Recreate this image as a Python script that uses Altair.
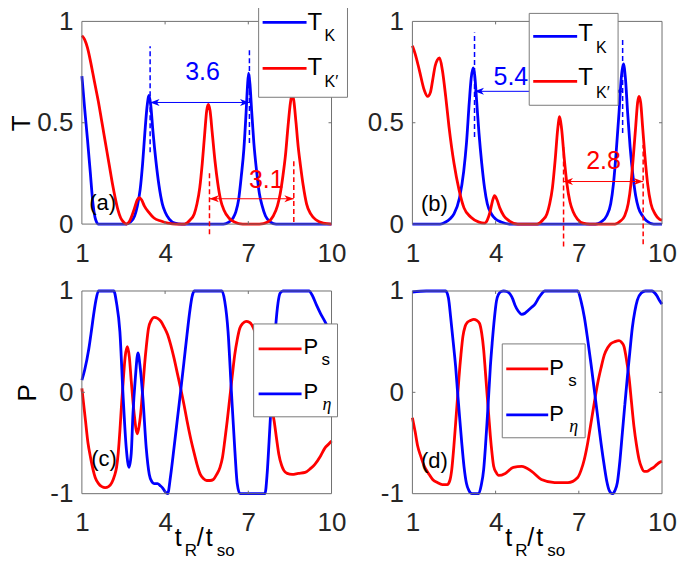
import altair as alt
import pandas as pd

# ---------------- data ----------------
# panel (a): transmission
a_blue_x = [1.0, 1.1, 1.2, 1.3, 1.4, 1.5, 1.6, 2.6, 2.75, 2.9, 3.0, 3.1, 3.19, 3.27, 3.35, 3.42, 3.48, 3.56, 3.67, 3.78, 3.9, 4.0, 4.15, 4.35, 4.6,
            6.1, 6.3, 6.45, 6.55, 6.65, 6.75, 6.84, 6.92, 6.97, 7.01, 7.06, 7.12, 7.2, 7.3, 7.4, 7.5, 7.62, 7.8, 8.0, 10.0]
a_blue_y = [0.73, 0.57, 0.42, 0.26, 0.1, 0.02, 0.0, 0.0, 0.01, 0.04, 0.09, 0.17, 0.3, 0.45, 0.58, 0.635, 0.59, 0.46, 0.31, 0.19, 0.1, 0.06, 0.025, 0.005, 0.0,
            0.0, 0.01, 0.03, 0.06, 0.12, 0.24, 0.37, 0.55, 0.68, 0.745, 0.69, 0.56, 0.4, 0.26, 0.15, 0.09, 0.04, 0.01, 0.0, 0.0]
a_red_x = [1.0, 1.1, 1.2, 1.3, 1.4, 1.5, 1.6, 1.7, 1.8, 1.9, 2.0, 2.1, 2.2, 2.3, 2.4, 2.5, 2.6, 2.7, 2.8, 2.9, 3.0, 3.07, 3.15, 3.25, 3.4, 3.6, 3.85,
           4.1, 4.4, 4.7, 4.9, 5.05, 5.15, 5.25, 5.34, 5.43, 5.5, 5.56, 5.62, 5.7, 5.8, 5.9, 6.0, 6.12, 6.3, 6.5, 6.8, 7.4, 7.7, 7.9, 8.05,
           8.15, 8.25, 8.34, 8.43, 8.52, 8.58, 8.64, 8.72, 8.8, 8.88, 8.98, 9.1, 9.25, 9.45, 9.7, 10.0]
a_red_y = [0.93, 0.91, 0.87, 0.81, 0.74, 0.67, 0.6, 0.52, 0.44, 0.36, 0.28, 0.2, 0.13, 0.07, 0.03, 0.01, 0.0, 0.01, 0.04, 0.08, 0.12, 0.13, 0.12, 0.09, 0.06, 0.03, 0.015,
           0.005, 0.0, 0.0, 0.02, 0.05, 0.1, 0.18, 0.3, 0.45, 0.56, 0.59, 0.56, 0.45, 0.31, 0.2, 0.12, 0.07, 0.03, 0.01, 0.0, 0.0, 0.01, 0.04, 0.09,
           0.15, 0.24, 0.34, 0.48, 0.6, 0.64, 0.61, 0.5, 0.38, 0.29, 0.19, 0.1, 0.05, 0.02, 0.005, 0.0]

# panel (b): transmission
b_blue_x = [1.0, 2.0, 2.2, 2.35, 2.5, 2.7, 2.85, 2.95, 3.05, 3.12, 3.19, 3.25, 3.32, 3.4, 3.5, 3.6, 3.7, 3.85, 4.0, 4.2, 4.5,
            7.6, 7.8, 8.0, 8.15, 8.25, 8.35, 8.45, 8.53, 8.61, 8.68, 8.76, 8.85, 8.95, 9.05, 9.15, 9.3, 9.45, 9.7, 10.0]
b_blue_y = [0.0, 0.0, 0.01, 0.025, 0.05, 0.13, 0.26, 0.4, 0.6, 0.72, 0.77, 0.73, 0.6, 0.45, 0.3, 0.18, 0.1, 0.05, 0.025, 0.01, 0.0,
            0.0, 0.01, 0.04, 0.1, 0.2, 0.36, 0.55, 0.72, 0.79, 0.72, 0.55, 0.38, 0.24, 0.14, 0.08, 0.04, 0.015, 0.0, 0.0]
b_red_x = [1.0, 1.1, 1.25, 1.43, 1.55, 1.65, 1.73, 1.82, 1.9, 1.98, 2.08, 2.2, 2.32, 2.5, 2.68, 2.86, 3.1, 3.4, 3.6, 3.7, 3.8, 3.88, 3.96,
           4.05, 4.15, 4.3, 4.5, 4.8, 5.5, 5.7, 5.85, 5.95, 6.05, 6.15, 6.24, 6.31, 6.38, 6.47, 6.57, 6.68, 6.8, 6.95, 7.15, 7.4,
           8.3, 8.5, 8.65, 8.78, 8.88, 8.97, 9.05, 9.12, 9.17, 9.23, 9.3, 9.38, 9.48, 9.6, 9.75, 9.9, 10.0]
b_red_y = [0.88, 0.84, 0.76, 0.66, 0.63, 0.65, 0.71, 0.78, 0.81, 0.82, 0.76, 0.63, 0.48, 0.3, 0.17, 0.08, 0.035, 0.01, 0.005, 0.02, 0.06, 0.11, 0.14,
           0.12, 0.08, 0.04, 0.015, 0.0, 0.0, 0.02, 0.05, 0.1, 0.18, 0.32, 0.47, 0.53, 0.47, 0.33, 0.2, 0.11, 0.06, 0.025, 0.005, 0.0,
           0.0, 0.015, 0.04, 0.1, 0.2, 0.34, 0.48, 0.6, 0.63, 0.6, 0.48, 0.34, 0.2, 0.1, 0.05, 0.025, 0.02]

# panel (c): polarisation
c_blue_x = [1.0, 1.1, 1.25, 1.35, 1.43, 1.5, 1.6, 2.15, 2.25, 2.37, 2.49, 2.6, 2.7, 2.78, 2.84, 2.93, 3.02, 3.1, 3.2, 3.32, 3.43, 3.52, 3.6,
            3.73, 3.82, 3.9, 4.0, 4.09, 4.2, 4.32, 4.44, 4.56, 4.68, 4.79, 4.9, 4.97, 5.05, 6.05, 6.15, 6.27, 6.39, 6.51, 6.6, 6.7,
            7.6, 7.68, 7.75, 7.87, 7.99, 8.07, 8.15, 8.25, 9.2, 9.3, 9.46, 9.6, 9.76, 9.9, 10.0]
c_blue_y = [0.12, 0.22, 0.43, 0.62, 0.78, 0.9, 1.0, 1.0, 0.88, 0.6, -0.06, -0.55, -0.74, -0.6, -0.22, 0.15, 0.39, 0.25, -0.06, -0.55, -0.81, -0.88, -0.9,
            -0.9, -0.92, -0.94, -0.98, -1.0, -0.82, -0.55, -0.27, 0.01, 0.3, 0.57, 0.82, 0.94, 1.0, 1.0, 0.9, 0.6, 0.01, -0.55, -0.9, -1.0,
            -1.0, -0.8, -0.48, 0.11, 0.66, 0.88, 0.98, 1.0, 1.0, 0.96, 0.86, 0.78, 0.7, 0.62, 0.55]
c_red_x = [1.0, 1.13, 1.22, 1.31, 1.4, 1.48, 1.6, 1.72, 1.84, 1.96, 2.08, 2.18, 2.25, 2.31, 2.37, 2.43, 2.49, 2.56, 2.64, 2.71, 2.78, 2.88, 3.0,
           3.07, 3.14, 3.2, 3.26, 3.33, 3.4, 3.5, 3.61, 3.73, 3.85, 3.97, 4.09, 4.2, 4.32, 4.44, 4.56, 4.68, 4.79, 4.91, 5.03, 5.15, 5.27,
           5.38, 5.5, 5.62, 5.74, 5.86, 5.98, 6.07, 6.15, 6.24, 6.33, 6.42, 6.51, 6.6, 6.69, 6.8, 6.92, 7.05, 7.3, 7.6, 7.8, 7.93, 8.02,
           8.1, 8.2, 8.28, 8.4, 8.58, 8.8, 9.05, 9.25, 9.4, 9.6, 9.76, 9.9, 10.0]
c_red_y = [0.04, -0.28, -0.5, -0.64, -0.76, -0.84, -0.9, -0.93, -0.94, -0.93, -0.89, -0.82, -0.74, -0.6, -0.38, -0.12, 0.11, 0.35, 0.45, 0.35, 0.11, -0.2, -0.41,
           -0.32, -0.15, 0.06, 0.27, 0.47, 0.63, 0.71, 0.74, 0.73, 0.7, 0.64, 0.57, 0.47, 0.34, 0.19, 0.04, -0.12, -0.28, -0.44, -0.58, -0.71, -0.81,
           -0.85, -0.87, -0.87, -0.86, -0.81, -0.74, -0.64, -0.48, -0.28, -0.06, 0.16, 0.37, 0.52, 0.63, 0.68, 0.7, 0.69, 0.55, 0.2, -0.1, -0.28, -0.46,
           -0.61, -0.72, -0.77, -0.8, -0.81, -0.8, -0.79, -0.75, -0.71, -0.63, -0.55, -0.51, -0.48]

# panel (d): polarisation
d_blue_x = [1.0, 1.5, 2.0, 2.2, 2.3, 2.38, 2.47, 2.56, 2.63, 2.7, 2.78, 2.86, 2.95, 3.04, 3.15, 3.39, 3.48, 3.57, 3.63, 3.69, 3.75, 3.81, 3.88,
            3.96, 4.03, 4.11, 4.2, 4.29, 4.4, 4.52, 4.62, 4.7, 4.82, 4.94, 5.06, 5.18, 5.3, 5.42, 5.55, 5.65, 5.77, 6.96, 7.08, 7.2, 7.32,
            7.44, 7.56, 7.68, 7.8, 7.92, 8.01, 8.1, 8.21, 8.3, 8.39, 8.48, 8.57, 8.66, 8.75, 8.84, 8.93, 9.02, 9.11, 9.25, 9.4, 9.52, 9.64,
            9.74, 9.82, 9.92, 10.0]
d_blue_y = [0.99, 1.0, 1.0, 1.0, 0.93, 0.74, 0.5, 0.25, 0.0, -0.24, -0.5, -0.73, -0.9, -0.97, -1.0, -1.0, -0.92, -0.76, -0.55, -0.3, -0.03, 0.25, 0.5,
            0.74, 0.9, 0.97, 0.995, 1.0, 0.995, 0.97, 0.92, 0.86, 0.8, 0.77, 0.78, 0.81, 0.84, 0.87, 0.93, 0.97, 1.0, 1.0, 0.9, 0.74, 0.52,
            0.28, 0.02, -0.24, -0.5, -0.73, -0.88, -0.97, -1.0, -0.97, -0.89, -0.68, -0.4, -0.12, 0.15, 0.4, 0.64, 0.8, 0.91, 0.98, 1.0, 1.0, 1.0,
            0.98, 0.95, 0.9, 0.87]
d_red_x = [1.0, 1.1, 1.19, 1.3, 1.43, 1.58, 1.73, 1.9, 2.08, 2.26, 2.35, 2.42, 2.49, 2.56, 2.62, 2.68, 2.75, 2.82, 2.9, 2.98, 3.1, 3.21, 3.32,
           3.42, 3.5, 3.57, 3.63, 3.69, 3.75, 3.81, 3.87, 3.93, 4.02, 4.11, 4.35, 4.64, 4.94, 5.3, 5.65, 6.13, 6.61, 6.96, 7.08, 7.2, 7.32,
           7.44, 7.56, 7.68, 7.8, 7.92, 8.04, 8.15, 8.3, 8.45, 8.55, 8.63, 8.72, 8.81, 8.9, 8.99, 9.08, 9.17, 9.26, 9.35, 9.45, 9.58, 9.7,
           9.82, 9.92, 10.0]
d_red_y = [-0.25, -0.39, -0.53, -0.63, -0.73, -0.8, -0.86, -0.89, -0.91, -0.91, -0.87, -0.76, -0.55, -0.3, -0.08, 0.15, 0.37, 0.55, 0.65, 0.69, 0.71, 0.72, 0.71,
           0.68, 0.58, 0.42, 0.21, -0.01, -0.22, -0.43, -0.6, -0.73, -0.79, -0.82, -0.8, -0.74, -0.73, -0.78, -0.86, -0.89, -0.89, -0.84, -0.77, -0.66, -0.5,
           -0.3, -0.1, 0.09, 0.24, 0.37, 0.44, 0.48, 0.5, 0.51, 0.49, 0.45, 0.32, 0.15, -0.1, -0.34, -0.52, -0.66, -0.74, -0.78, -0.78, -0.76, -0.74,
           -0.71, -0.69, -0.68]

# annotations (data coordinates)
a_bdash_x, a_bdash_y1, a_bdash_y2 = [3.46, 7.04], [0.355, 0.40], [0.877, 0.86]
a_rdash_x, a_rdash_y1, a_rdash_y2 = [5.6, 8.64], [-0.05, 0.01], [0.26, 0.32]
a_barrow = (3.46, 7.04, 0.60)
a_rarrow = (5.6, 8.64, 0.125)
a_texts = [("3.6", 5.35, 0.75, "#0000ff"), ("3.1", 7.65, 0.215, "#ff0000"), ("(a)", 1.75, 0.105, "black")]

b_bdash_x, b_bdash_y1, b_bdash_y2 = [3.24, 8.58], [0.43, 0.45], [0.945, 0.92]
b_rdash_x, b_rdash_y1, b_rdash_y2 = [6.45, 9.32], [-0.11, -0.10], [0.38, 0.39]
b_barrow = (3.24, 8.58, 0.655)
b_rarrow = (6.45, 9.32, 0.21)
b_texts = [("5.4", 4.55, 0.725, "#0000ff"), ("2.8", 7.89, 0.31, "#ff0000"), ("(b)", 1.79, 0.10, "black")]

c_texts = [("(c)", 1.8, -0.66, "black")]
d_texts = [("(d)", 1.79, -0.68, "black")]

x_ticks = [1, 4, 7, 10]
t_ticks = [0, 0.5, 1]
p_ticks = [-1, 0, 1]

# ---------------- styling ----------------
W, H = 250, 203
FONT = "Liberation Sans"
BLUE = "#0000ff"
RED = "#ff0000"
FRAME = "#6f6f6f"
LABEL = "#262626"
DUMMY = pd.DataFrame({"d": [0]})
LW = 2.8
LABEL_EXPR = "replace(datum.label, '\u2212', '-')"


def txt(s, x, y, size, color="black", align="left", baseline="alphabetic", font=FONT, style="normal"):
    return alt.Chart(DUMMY).mark_text(text=s, fontSize=size, color=color, align=align,
                                      baseline=baseline, font=font, fontStyle=style).encode(
        x=alt.value(x), y=alt.value(y))


def panel(curves, dom, yticks, ytitle, ytitle_x, texts, dashes, arrows, legend, xtitle, anchor=False):
    xax = alt.Axis(values=x_ticks, format="~r", labelExpr=LABEL_EXPR, title=None, ticks=False,
                   domain=False, grid=False, labelFont=FONT, labelFontSize=26, labelColor=LABEL,
                   labelPadding=16, labelFlush=False, labelOverlap=False)
    yargs = dict(values=yticks, format="~r", labelExpr=LABEL_EXPR, ticks=False, domain=False, grid=False,
                 labelFont=FONT, labelFontSize=26, labelColor=LABEL, labelPadding=9,
                 labelFlush=False, labelOverlap=False)
    if ytitle:
        yargs.update(title=ytitle, titleX=ytitle_x, titleY=H / 2, titleAngle=270, titleAlign="center",
                     titleBaseline="alphabetic", titleFont=FONT, titleFontSize=26,
                     titleFontWeight="normal", titleColor="black")
    else:
        yargs.update(title=None)
    yax = alt.Axis(**yargs)

    def X(f):
        return alt.X(f, scale=alt.Scale(domain=[1, 10], nice=False, zero=False), axis=xax)

    def Y(f):
        return alt.Y(f, scale=alt.Scale(domain=dom, nice=False, zero=False), axis=yax)

    layers = []
    for xs, ys, col in curves:
        df = pd.DataFrame({"x": xs, "y": ys})
        layers.append(alt.Chart(df).mark_line(color=col, strokeWidth=LW, interpolate="monotone").encode(
            x=X("x:Q"), y=Y("y:Q")))
    # frame
    layers.append(alt.Chart(DUMMY).mark_rect(fillOpacity=0, stroke=FRAME, strokeWidth=1).encode(
        x=alt.value(0), x2=alt.value(W), y=alt.value(0), y2=alt.value(H)))
    # inner ticks
    inner_x = [v for v in x_ticks if v not in (1, 10)]
    inner_y = [yticks[1]]
    dfx = pd.DataFrame({"t": inner_x})
    dfy = pd.DataFrame({"t": inner_y})
    for ya, yb in ((0, 3), (H, H - 3)):
        layers.append(alt.Chart(dfx).mark_rule(color=FRAME, strokeWidth=1).encode(
            x=X("t:Q"), y=alt.value(ya), y2=alt.value(yb)))
    for xa, xb in ((0, 3), (W, W - 3)):
        layers.append(alt.Chart(dfy).mark_rule(color=FRAME, strokeWidth=1).encode(
            y=Y("t:Q"), x=alt.value(xa), x2=alt.value(xb)))
    # dashed markers
    for dx, dy1, dy2, col in dashes:
        df = pd.DataFrame({"x": dx, "y1": dy1, "y2": dy2})
        layers.append(alt.Chart(df).mark_rule(color=col, strokeWidth=1.5, strokeDash=[5, 3]).encode(
            x=X("x:Q"), y=Y("y1:Q"), y2="y2:Q"))
    # double arrows
    for (x1, x2, yv), col in arrows:
        df = pd.DataFrame({"x1": [x1], "x2": [x2], "y": [yv]})
        layers.append(alt.Chart(df).mark_rule(color=col, strokeWidth=1).encode(
            x=X("x1:Q"), x2="x2:Q", y=Y("y:Q")))
        layers.append(alt.Chart(df).mark_point(shape="M-1,0L1,-0.75L0.45,0L1,0.75Z", filled=True, size=90,
                                               color=col, opacity=1, xOffset=4.7).encode(
            x=X("x1:Q"), y=Y("y:Q")))
        layers.append(alt.Chart(df).mark_point(shape="M1,0L-1,-0.75L-0.45,0L-1,0.75Z", filled=True, size=90,
                                               color=col, opacity=1, xOffset=-4.7).encode(
            x=X("x2:Q"), y=Y("y:Q")))
    # annotation texts
    for s, tx, ty, col in texts:
        df = pd.DataFrame({"x": [tx], "y": [ty], "t": [s]})
        size = 22 if s.startswith("(") else 25
        layers.append(alt.Chart(df).mark_text(fontSize=size, color=col, font=FONT, align="center",
                                              baseline="middle").encode(
            x=X("x:Q"), y=Y("y:Q"), text="t:N"))
    # legend
    (bx1, by1, bx2, by2), entries, msize = legend
    layers.append(alt.Chart(DUMMY).mark_rect(fill="white", stroke="#7a7a7a", strokeWidth=1).encode(
        x=alt.value(bx1), x2=alt.value(bx2), y=alt.value(by1), y2=alt.value(by2)))
    for col, ly, lx1, lx2, main, mx, mb, sub, sx, sb, sfont, sstyle, ssize in entries:
        layers.append(alt.Chart(DUMMY).mark_rule(color=col, strokeWidth=LW).encode(
            x=alt.value(lx1), x2=alt.value(lx2), y=alt.value(ly)))
        layers.append(txt(main, mx, mb, msize))
        layers.append(txt(sub, sx, sb, ssize, font=sfont, style=sstyle))
    # x title with subscripts
    if xtitle:
        layers.append(txt("t", 93, H + 52, 25))
        layers.append(txt("R", 103, H + 62, 17))
        layers.append(txt("/", 115, H + 52, 25))
        layers.append(txt("t", 124, H + 52, 25))
        layers.append(txt("so", 135, H + 62, 17))
    if anchor:
        layers.append(alt.Chart(DUMMY).mark_rule(color="white", strokeWidth=1).encode(
            x=alt.value(-86), y=alt.value(-26), y2=alt.value(-25)))
    return alt.layer(*layers).properties(width=W, height=H)


leg_a = ((177, -23, 266, 76), [
    (BLUE, 1, 181, 225, "T", 226, 9, "K", 243, 20, FONT, "normal", 16),
    (RED, 47, 181, 225, "T", 226, 54, "K\u2032", 243, 66, FONT, "normal", 16)], 24)
leg_b = ((117, -8, 206, 84), [
    (BLUE, 15, 121, 165, "T", 166, 20, "K", 184, 32, FONT, "normal", 16),
    (RED, 60, 121, 165, "T", 166, 64, "K\u2032", 184, 77, FONT, "normal", 16)], 24)
leg_c = ((172, 33, 256, 126), [
    (RED, 58, 177, 220, "P", 222, 63, "s", 240, 74, FONT, "normal", 17),
    (BLUE, 103, 177, 220, "P", 222, 108, "\u03b7", 241, 119, "Liberation Serif", "italic", 18)], 22)
leg_d = ((90, 53, 173, 147), [
    (RED, 78, 94, 136, "P", 137, 84, "s", 156, 95, FONT, "normal", 17),
    (BLUE, 124, 94, 136, "P", 137, 130, "\u03b7", 157, 141, "Liberation Serif", "italic", 18)], 22)

pa = panel([(a_blue_x, a_blue_y, BLUE), (a_red_x, a_red_y, RED)], [0, 1], t_ticks, "T", -52, a_texts,
           [(a_bdash_x, a_bdash_y1, a_bdash_y2, BLUE), (a_rdash_x, a_rdash_y1, a_rdash_y2, RED)],
           [(a_barrow, BLUE), (a_rarrow, RED)], leg_a, False, anchor=True)
pb = panel([(b_blue_x, b_blue_y, BLUE), (b_red_x, b_red_y, RED)], [0, 1], t_ticks, None, 0, b_texts,
           [(b_bdash_x, b_bdash_y1, b_bdash_y2, BLUE), (b_rdash_x, b_rdash_y1, b_rdash_y2, RED)],
           [(b_barrow, BLUE), (b_rarrow, RED)], leg_b, False)
pc = panel([(c_red_x, c_red_y, RED), (c_blue_x, c_blue_y, BLUE)], [-1, 1], p_ticks, "P", -46, c_texts,
           [], [], leg_c, True)
pd_ = panel([(d_red_x, d_red_y, RED), (d_blue_x, d_blue_y, BLUE)], [-1, 1], p_ticks, None, 0, d_texts,
            [], [], leg_d, True)

chart = alt.concat(pa, pb, pc, pd_, columns=2, spacing={"row": 67, "column": 81}, bounds="flush").properties(
    padding={"left": -13, "top": -14, "right": 0, "bottom": 0}
).configure_view(stroke=None)

chart.save("out.html", embed_options={"renderer": "svg", "actions": False})
